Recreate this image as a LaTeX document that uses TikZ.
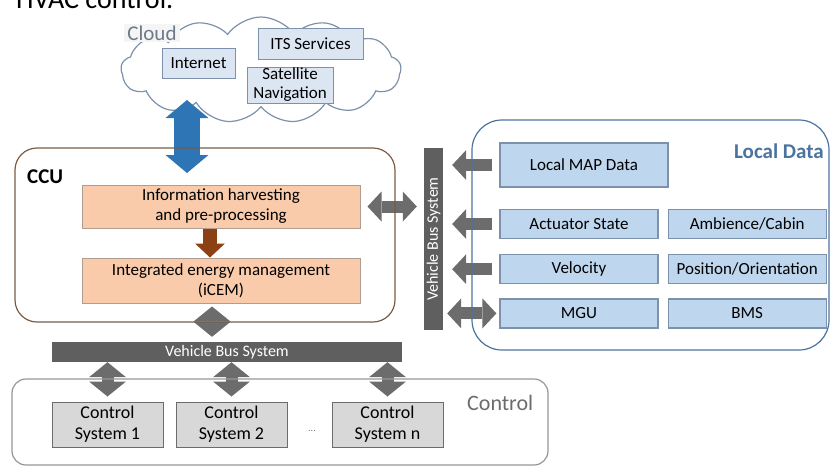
\documentclass[tikz,border=0pt]{standalone}
\usepackage{fontspec}
\setmainfont{Carlito}
\usetikzlibrary{arrows.meta, positioning, shapes.symbols}
\definecolor{cloudline}{RGB}{125,145,170}
\definecolor{cloudfill}{RGB}{220,230,242}
\definecolor{cloudtext}{RGB}{110,122,138}
\definecolor{cculine}{RGB}{120,92,70}
\definecolor{ccufill}{RGB}{250,203,170}
\definecolor{localline}{RGB}{75,115,160}
\definecolor{localfill}{RGB}{190,214,238}
\definecolor{ctrlline}{RGB}{150,150,150}
\definecolor{ctrlfill}{RGB}{216,216,216}
\definecolor{busgray}{RGB}{95,95,95}
\definecolor{arrowgray}{RGB}{108,108,108}
\definecolor{netblue}{RGB}{46,117,182}
\definecolor{harvestbrown}{RGB}{140,65,20}
\newcommand{\fsz}[2]{\fontsize{#1}{#2}\selectfont}
\tikzset{
  gtip/.tip={Triangle[width=30pt,length=14pt,line width=0pt]},
  dtip/.tip={Triangle[width=37pt,length=15pt,line width=0pt]},
  btip/.tip={Triangle[width=43pt,length=18pt,line width=0pt]},
  rtip/.tip={Triangle[width=30pt,length=14pt,line width=0pt]}
}

\begin{document}
\begin{tikzpicture}[
  x=1pt, y=-1pt,
  every node/.style={inner sep=0pt, align=center},
  cloudbox/.style={draw=cloudline, fill=cloudfill, line width=1pt, font=\fsz{17}{19}},
  ccubox/.style={draw=cculine!60, fill=ccufill, line width=1pt, minimum width=278pt, font=\fsz{17}{20}},
  localbox/.style={draw=cloudline, fill=localfill, line width=1.2pt, minimum width=158pt, minimum height=29pt, font=\fsz{17}{19}},
  ctrlbox/.style={draw=arrowgray, fill=ctrlfill, line width=1pt, minimum width=111pt, minimum height=45pt, font=\fsz{18}{21}},
  bus/.style={fill=busgray, text=white, font=\fsz{16}{17}},
  group/.style={line width=1.2pt, rounded corners=22pt},
  grayarrow/.style={draw=arrowgray, line width=12pt, gtip-gtip},
  leftarrow/.style={draw=arrowgray, line width=12pt, -gtip},
  diamondarrow/.style={draw=arrowgray, line width=12pt, dtip-dtip},
  bluearrow/.style={draw=netblue, line width=26pt, btip-btip},
  brownarrow/.style={draw=harvestbrown, line width=14pt, -rtip}
]
\useasboundingbox (0,0) rectangle (831,467);
\node[anchor=base west, font=\fsz{28}{30}] (title) at (16,8) {HVAC control.};

\node[cloud, cloud puffs=13, cloud puff arc=110, cloud ignores aspect, draw=cloudline, line width=1.2pt, fill=white, minimum width=280pt, minimum height=106pt] (cloud) at (261,70) {};
\node[text=cloudtext, fill=black!4, inner xsep=3pt, inner ysep=2pt, font=\fsz{21}{24}] (cloudlbl) at (152,33) {Cloud};
\node[cloudbox, minimum width=105pt, minimum height=31pt] (its) at (310.5,43.5) {ITS Services};
\node[cloudbox, minimum width=73pt, minimum height=30pt] (internet) at (198.5,63) {Internet};
\node[cloudbox, minimum width=86pt, minimum height=36pt] (satnav) at (290,85) {Satellite\\Navigation};

\node[font=\bfseries\fsz{21}{24}, anchor=west] (cculbl) at (27,177) {CCU};
\node[ccubox, minimum height=43pt] (harvest) at (221,206.5) {Information harvesting\\and pre-processing};
\node[ccubox, minimum height=45pt, below=29pt of harvest] (icem) {Integrated energy management\\(iCEM)};

\node[bus, minimum width=19pt, minimum height=182pt] (vbus) at (433.5,239) {};
\node[rotate=90, text=white, font=\fsz{16}{17}] (vbuslbl) at (vbus) {Vehicle Bus System};

\node[localbox, minimum width=168pt, minimum height=44pt] (localmap) at (584,165) {Local MAP Data};
\node[text=localline, font=\bfseries\fsz{21}{24}, anchor=east] (locallbl) at (824,151) {Local Data};
\node[localbox] (actuator) at (579,224) {Actuator State};
\node[localbox, right=9pt of actuator] (ambience) {Ambience/Cabin};
\node[localbox, below=15pt of actuator] (velocity) {Velocity};
\node[localbox, right=9pt of velocity] (position) {Position/Orientation};
\node[localbox, below=14pt of velocity] (mgu) {MGU};
\node[localbox, right=9pt of mgu] (bms) {BMS};

\node[bus, minimum width=350pt, minimum height=20pt] (hbus) at (227,352) {Vehicle Bus System};

\node[ctrlbox] (cs1) at (107.5,424.5) {Control\\System 1};
\node[ctrlbox, right=12pt of cs1] (cs2) {Control\\System 2};
\node[ctrlbox] (csn) at (387.5,424.5) {Control\\System n};
\node[text=arrowgray, font=\fsz{10}{12}] (dots) at (312,431) {...};
\node[text=arrowgray, font=\fsz{22}{24}, anchor=west] (ctrllbl) at (467,403) {Control};

\coordinate (cloudport) at (187,100);
\coordinate (ccuport) at (187,173);
\draw[bluearrow] (cloudport) -- (ccuport);
\draw[brownarrow] ([xshift=-11pt]harvest.south) -- ([xshift=-11pt]icem.north);
\draw[grayarrow] ([xshift=7pt]harvest.east) -- ([xshift=-7pt]vbus.west |- harvest.east);
\draw[diamondarrow] ([xshift=-9pt,yshift=-3pt]icem.south) -- ([xshift=-9pt,yshift=5pt]icem.south |- hbus.north);
\foreach \cs in {cs1,cs2,csn}
  \draw[diamondarrow] (\cs.north |- hbus.south) -- ([yshift=5pt]\cs.north);
\foreach \src in {localmap,actuator,velocity}
  \draw[leftarrow] ([xshift=-7pt]\src.west) -- ([xshift=9pt]vbus.east |- \src.west);
\draw[grayarrow] ([xshift=-3pt]mgu.west) -- ([xshift=4pt]vbus.east |- mgu.west);

\draw[group, draw=cculine] (15,148) rectangle (395,322);
\draw[group, draw=localline, rounded corners=30pt] (472,120) rectangle (829,350);
\draw[group, draw=ctrlline, rounded corners=14pt] (12,379) rectangle (548,465);
\end{tikzpicture}
\end{document}
